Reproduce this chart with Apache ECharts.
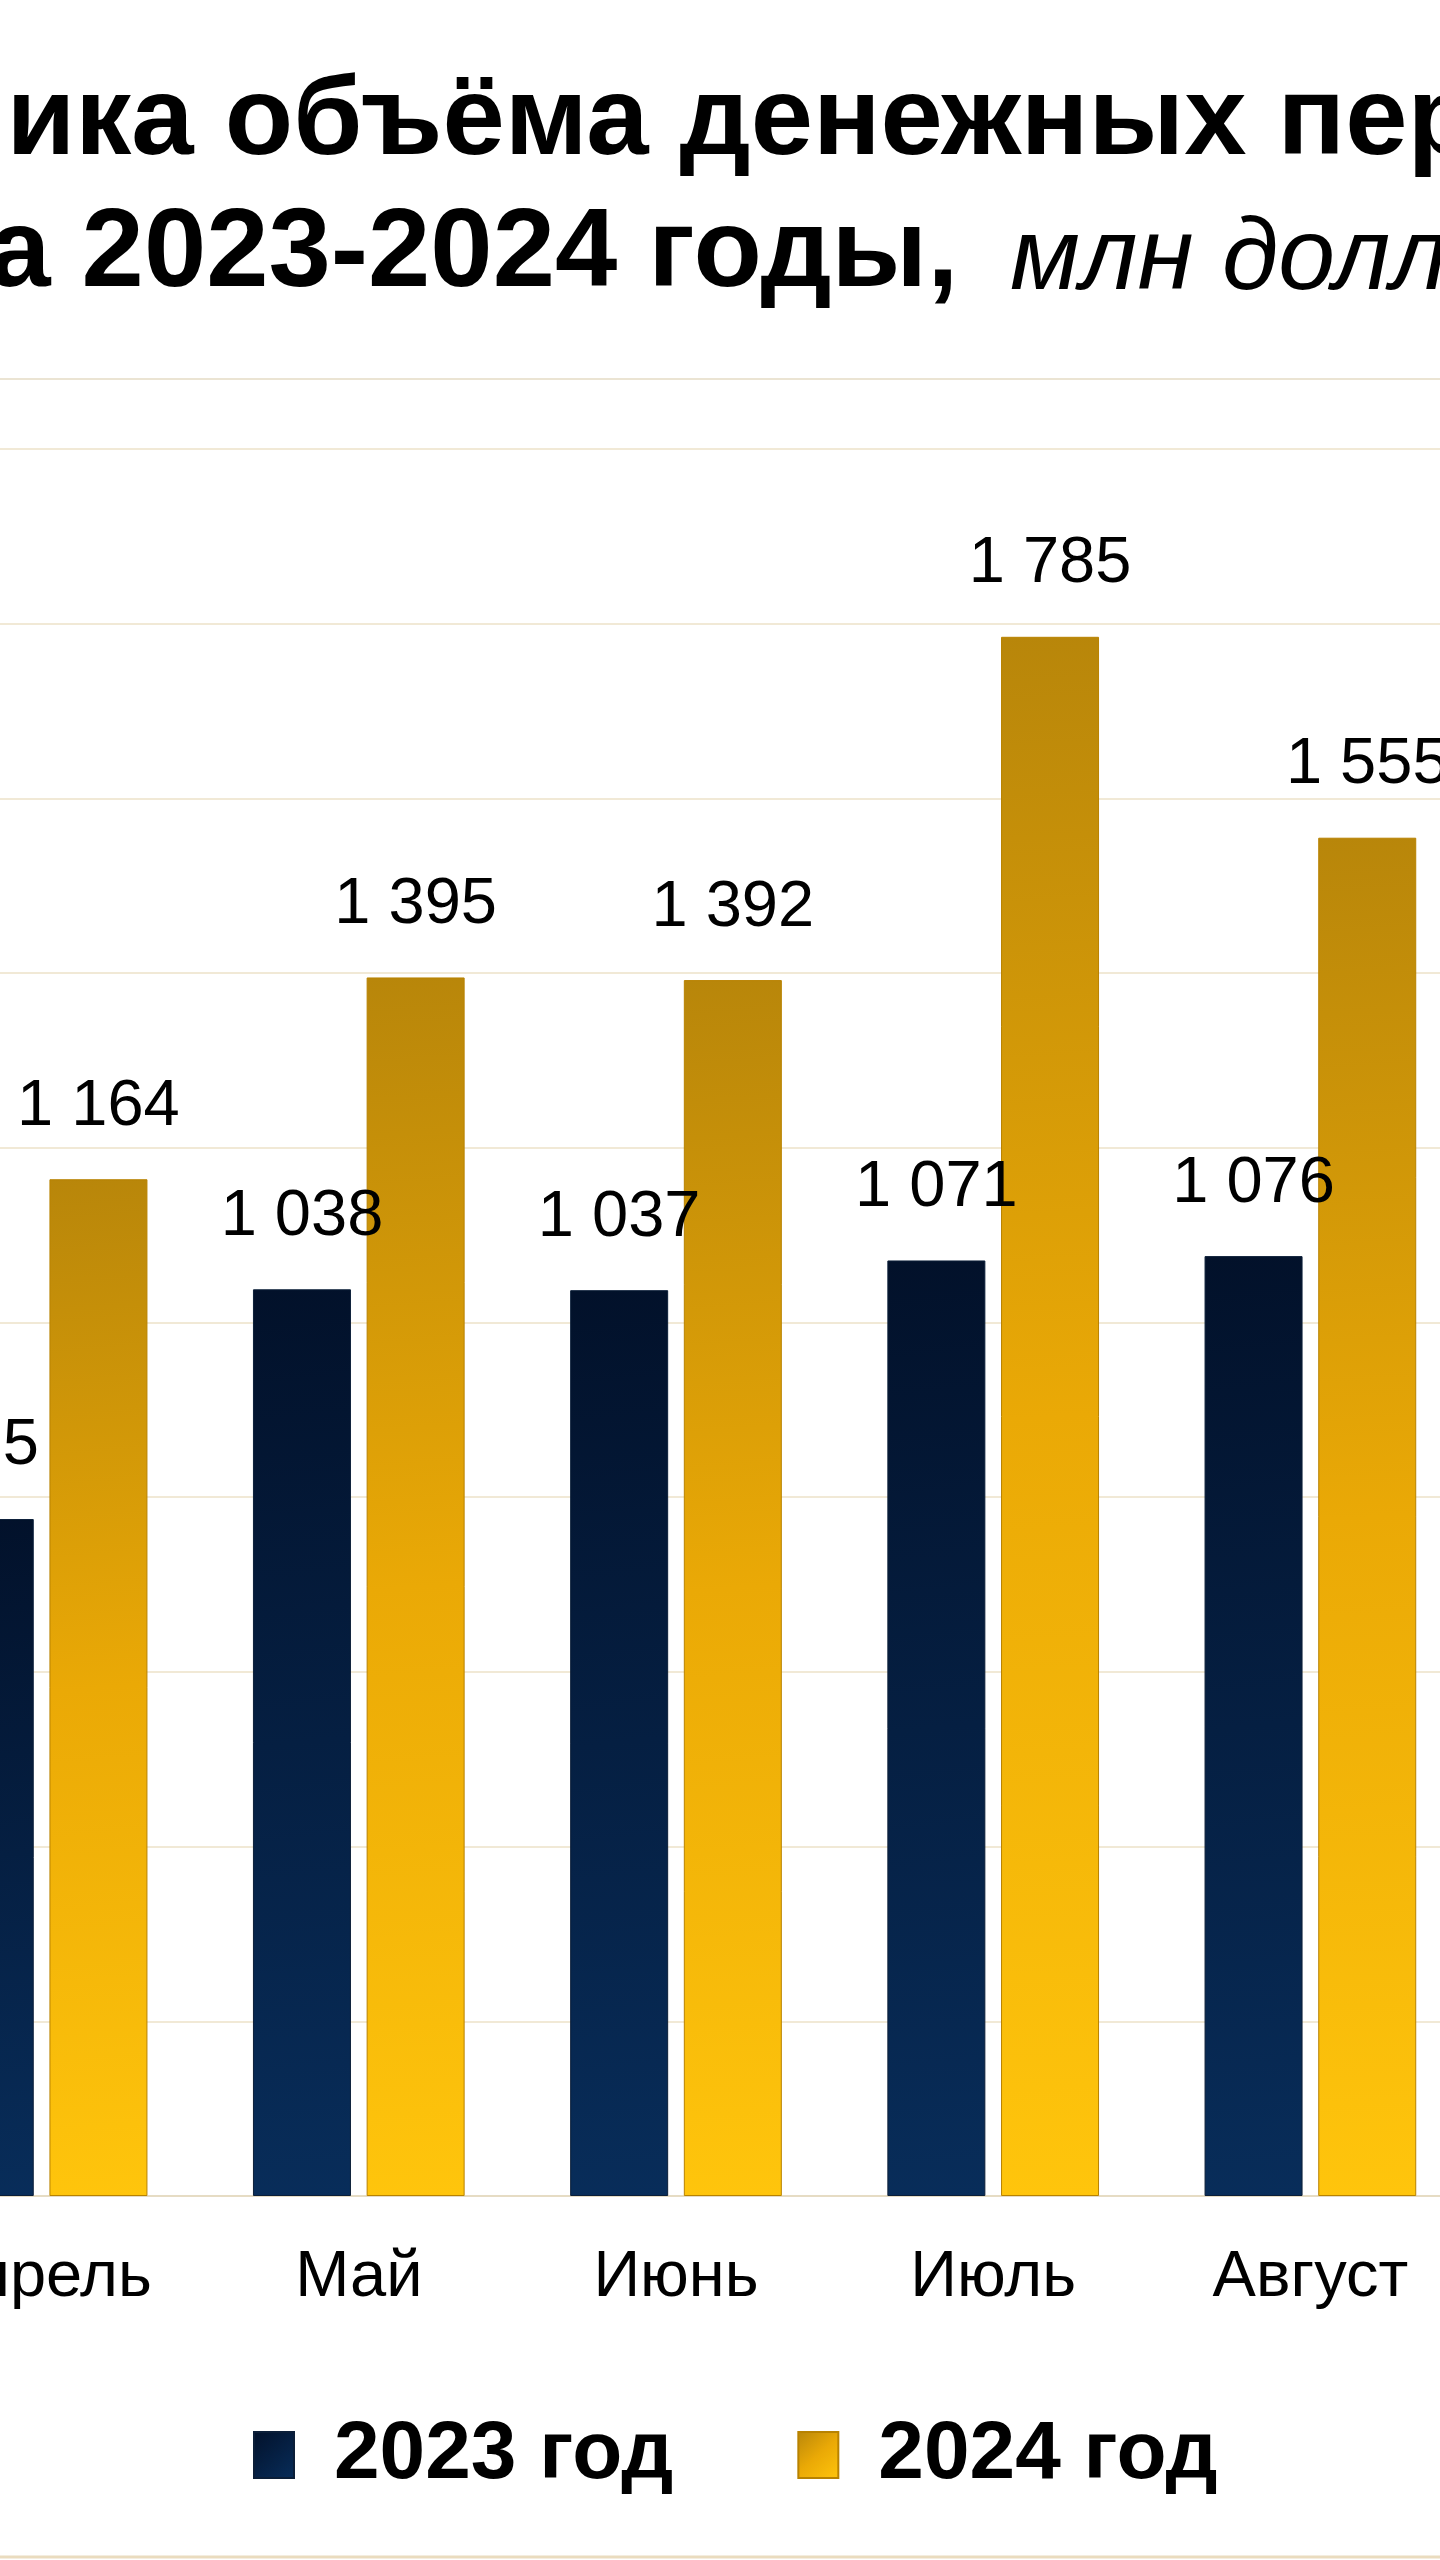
<!DOCTYPE html>
<html>
<head>
<meta charset="utf-8">
<title>Денежные переводы 2023-2024</title>
<script src="https://cdn.jsdelivr.net/npm/echarts@6/dist/echarts.min.js"></script>
<style>
	html, body { margin: 0; padding: 0; background: #fff; overflow: hidden; width: 1440px; height: 2560px; position: relative; }
	/* 原图是裁剪过的, 画布比窗口宽, 左移 400px */
	#main { position: absolute; left: -400px; top: 0; width: 2240px; height: 2560px; }
</style>
</head>
<body>
<div id="main"></div>
<script>
// 数据
var months = ['Апрель', 'Май', 'Июнь', 'Июль', 'Август'];
var seriesNames = ['2023 год', '2024 год'];
var values2023 = [775, 1038, 1037, 1071, 1076];
var values2024 = [1164, 1395, 1392, 1785, 1555];
var yTicks = [0, 2000, 200]; // min, max, interval

var font = "'Liberation Sans', Arial, sans-serif";
var shift = 400; // 画布左移的距离

// 数字 1785 -> "1 785"
function fmt(p){
	return String(p.value).replace(/\B(?=(\d{3})+(?!\d))/g, ' ');
}

function bar_chart(){
	var myChart = echarts.init(document.getElementById('main'));
	var option = {
		animation: false,
		backgroundColor: '#ffffff',
		title: [{
			text: 'Динамика объёма денежных переводов',
			left: shift - 355, top: 67, padding: 0,
			textStyle: { fontSize: 112, lineHeight: 112, fontWeight: 'bold', color: '#000', fontFamily: font }
		}, {
			text: 'за 2023-2024 годы,',
			left: shift - 66, top: 199, padding: 0,
			textStyle: { fontSize: 112, lineHeight: 112, fontWeight: 'bold', color: '#000', fontFamily: font }
		}, {
			text: 'млн долларов',
			left: shift + 1010, top: 210, padding: 0,
			textStyle: { fontSize: 102, lineHeight: 102, fontWeight: 'normal', fontStyle: 'italic', color: '#000', fontFamily: font }
		}],
		legend: {
			data: seriesNames,
			left: shift + 248, top: 2409,
			icon: 'rect',
			itemWidth: 40, itemHeight: 46, itemGap: 124,
			textStyle: { fontSize: 82, fontWeight: 'bold', color: '#000', fontFamily: font, padding: [0, 0, 0, 35] }
		},
		grid: { left: shift - 117, width: 1586, top: 449, height: 1747, outerBoundsMode: 'none' },
		xAxis: {										//X轴
			type: 'category',
			data: months,
			axisLine: { lineStyle: { color: '#e6dcc4', width: 2 } },
			axisTick: { show: false },
			axisLabel: { fontSize: 65, color: '#000', fontFamily: font, margin: 50 }
		},
		yAxis: {										//Y轴
			type: 'value',
			min: yTicks[0], max: yTicks[1], interval: yTicks[2],
			axisLabel: { show: false },
			axisLine: { show: false },
			axisTick: { show: false },
			splitLine: { lineStyle: { color: '#f1e9d6', width: 2 } }
		},
		series: [{
			name: seriesNames[0],
			type: 'bar',
			data: values2023,
			barWidth: 98,
			barGap: '16%',
			itemStyle: {
				color: new echarts.graphic.LinearGradient(0, 0, 1, 1, [
					{ offset: 0, color: '#02112a' },
					{ offset: 1, color: '#082d5a' }
				]),
				borderColor: '#0b1e38', borderWidth: 1
			},
			label: { show: true, position: 'top', distance: 40, fontSize: 65, color: '#000', fontFamily: font, formatter: fmt }
		}, {
			name: seriesNames[1],
			type: 'bar',
			data: values2024,
			barWidth: 98,
			itemStyle: {
				color: new echarts.graphic.LinearGradient(0, 0, 1, 1, [
					{ offset: 0, color: '#b8860a' },
					{ offset: 0.5, color: '#eaa906' },
					{ offset: 1, color: '#ffc50c' }
				]),
				borderColor: '#b88200', borderWidth: 1
			},
			label: { show: true, position: 'top', distance: 40, fontSize: 65, color: '#000', fontFamily: font, formatter: fmt }
		}],
		graphic: [{
			type: 'line', shape: { x1: shift, y1: 379, x2: shift + 1440, y2: 379 },
			style: { stroke: '#ebe4d3', lineWidth: 2 }, silent: true
		}, {
			type: 'line', shape: { x1: shift, y1: 2557, x2: shift + 1440, y2: 2557 },
			style: { stroke: '#eadcbf', lineWidth: 3 }, silent: true
		}]
	};
	myChart.setOption(option);
}

bar_chart();
</script>
</body>
</html>
